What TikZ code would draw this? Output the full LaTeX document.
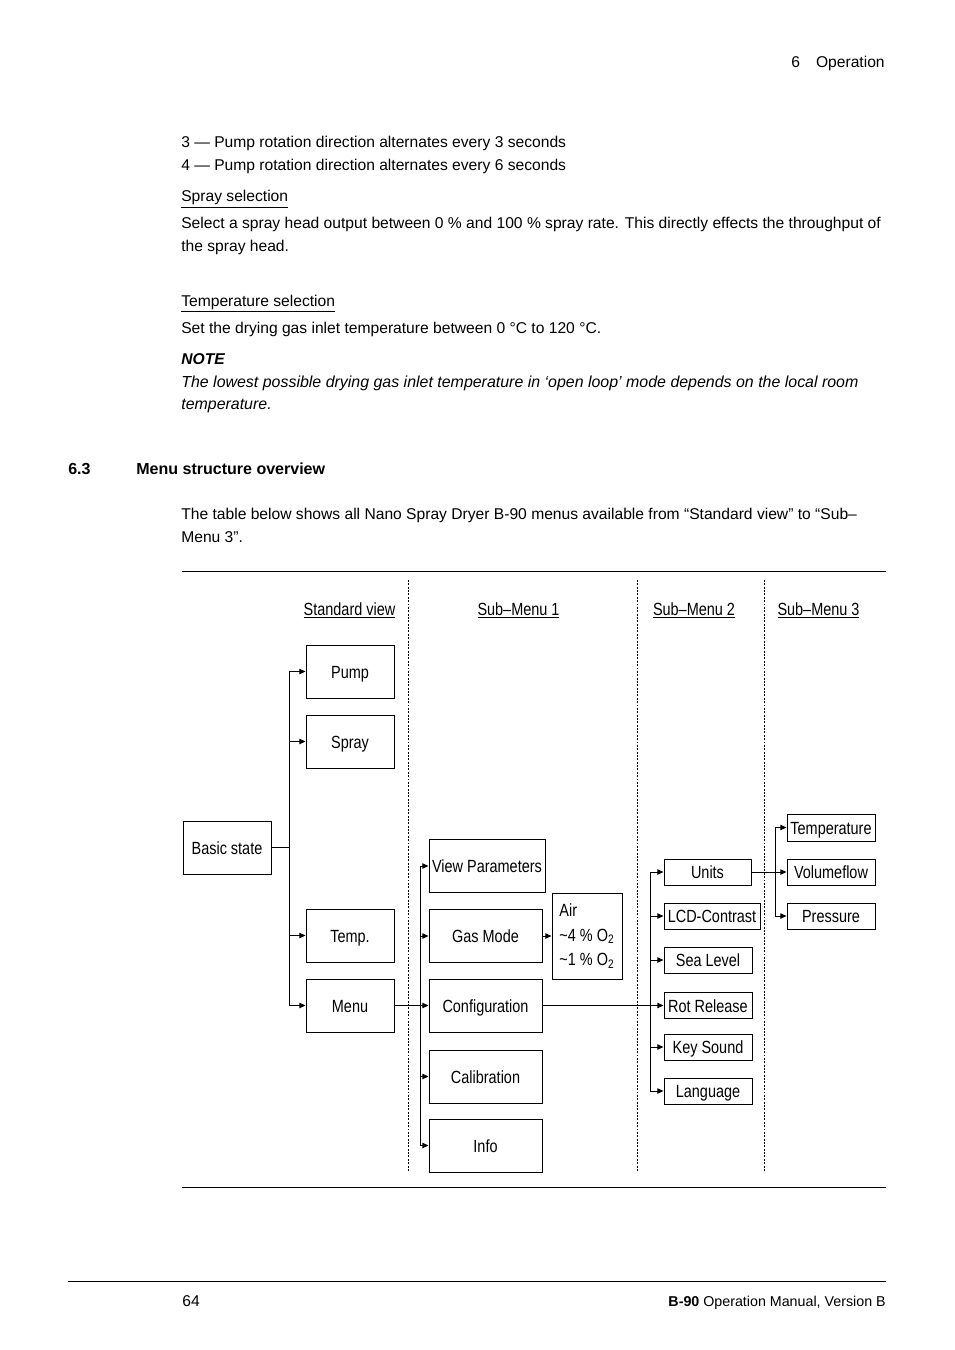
\documentclass[tikz,border=0pt]{standalone}
\usepackage{fontspec}
\setmainfont{Liberation Sans}
\newfontfamily\narrowfont[FakeStretch=0.82]{Liberation Sans}
\usetikzlibrary{arrows.meta}
\newdimen\pxu \pxu=0.624pt
\begin{document}
\begin{tikzpicture}[x=0.624pt,y=-0.624pt,
  body/.style={anchor=base west,inner sep=0pt,font=\fontsize{9.75}{12}\selectfont},
  bodyit/.style={body,font=\fontsize{9.95}{12}\selectfont\itshape},
  dg/.style={font=\narrowfont\fontsize{11}{13}\selectfont},
  hdr/.style={dg,anchor=base,inner sep=0pt},
  box/.style={dg,draw,line width=0.6pt,inner sep=1pt,text height=8.6pt,text depth=0pt},
  ln/.style={line width=0.6pt},
  arr/.style={ln,-{Triangle[length=3.8pt,width=3.3pt]}},
  sep/.style={line width=0.5pt,dash pattern=on 1.2pt off 0.9pt},
  rule/.style={line width=0.6pt}]
\useasboundingbox (0,0) rectangle (954,1350);

% header
\node[body] (h6) at (791,68) {6};
\node[body,anchor=base east] (hop) at (885,68) {Operation};

% body text
\node[body] (l3) at (181,148) {3 — Pump rotation direction alternates every 3 seconds};
\node[body] (l4) at (181,171) {4 — Pump rotation direction alternates every 6 seconds};
\node[body] (ss) at (181,202) {\underline{Spray selection}};
\node[body] (ss1) at (181,229) {Select a spray head output between 0 \% and 100 \% spray rate. This directly effects the throughput of};
\node[body] (ss2) at (181,252) {the spray head.};
\node[body] (ts) at (181,306) {\underline{Temperature selection}};
\node[body] (ts1) at (181,333) {Set the drying gas inlet temperature between 0 °C to 120 °C.};
\node[body,font=\fontsize{9.75}{12}\selectfont\bfseries\itshape] (note) at (181,364) {NOTE};
\node[bodyit] (n1) at (181,387) {The lowest possible drying gas inlet temperature in ‘open loop’ mode depends on the local room};
\node[bodyit] (n2) at (181,409) {temperature.};
\node[body,font=\fontsize{10}{12}\selectfont\bfseries] (secn) at (68,474) {6.3};
\node[body,font=\fontsize{10}{12}\selectfont\bfseries] (sect) at (136,474) {Menu structure overview};
\node[body] (tb1) at (181,519) {The table below shows all Nano Spray Dryer B-90 menus available from “Standard view” to “Sub–};
\node[body] (tb2) at (181,542) {Menu 3”.};

% rules
\coordinate (r1a) at (182,571); \coordinate (r1b) at (886,571);
\draw[rule] (r1a) -- (r1b);
\coordinate (r2a) at (182,1187); \coordinate (r2b) at (886,1187);
\draw[rule] (r2a) -- (r2b);
\coordinate (r3a) at (68,1281); \coordinate (r3b) at (886,1281);
\draw[rule] (r3a) -- (r3b);

% column separators
\coordinate (s1a) at (408,580); \coordinate (s1b) at (408,1171);
\coordinate (s2a) at (637,580); \coordinate (s2b) at (637,1171);
\coordinate (s3a) at (764,580); \coordinate (s3b) at (764,1171);
\draw[sep] (s1a) -- (s1b);
\draw[sep] (s2a) -- (s2b);
\draw[sep] (s3a) -- (s3b);

% column headers
\node[hdr] (hsv) at (349.5,615) {\underline{Standard view}};
\node[hdr] (hs1) at (518.5,615) {\underline{Sub–Menu 1}};
\node[hdr] (hs2) at (694,615) {\underline{Sub–Menu 2}};
\node[hdr] (hs3) at (818.5,615) {\underline{Sub–Menu 3}};

% standard view
\node[box,minimum width=88*\pxu,minimum height=53*\pxu] (basic) at (227,847.5) {Basic state};
\node[box,minimum width=88*\pxu,minimum height=53*\pxu] (pump) at (350,671.5) {Pump};
\node[box,minimum width=88*\pxu,minimum height=53*\pxu] (spray) at (350,741.5) {Spray};
\node[box,minimum width=88*\pxu,minimum height=53*\pxu] (temp) at (350,935.5) {Temp.};
\node[box,minimum width=88*\pxu,minimum height=53*\pxu] (menu) at (350,1005.5) {Menu};

\coordinate (t1) at (289,847.5);
\draw[ln] (basic.east) -- (t1);
\draw[ln] (t1 |- pump.west) -- (t1 |- menu.west);
\draw[arr] (t1 |- pump.west) -- (pump.west);
\draw[arr] (t1 |- spray.west) -- (spray.west);
\draw[arr] (t1 |- temp.west) -- (temp.west);
\draw[arr] (t1 |- menu.west) -- (menu.west);

% sub-menu 1
\node[box,minimum width=116*\pxu,minimum height=53*\pxu] (vp) at (487,866) {View Parameters};
\node[box,minimum width=113*\pxu,minimum height=53*\pxu] (gas) at (485.5,936) {Gas Mode};
\node[box,minimum width=113*\pxu,minimum height=53*\pxu] (conf) at (485.5,1005.5) {Configuration};
\node[box,minimum width=113*\pxu,minimum height=53*\pxu] (cal) at (485.5,1076.5) {Calibration};
\draw[line width=1.1pt] (cal.south west) -- (cal.south east);
\node[box,minimum width=113*\pxu,minimum height=53*\pxu] (info) at (485.5,1145.5) {Info};
\node[dg,draw,line width=0.6pt,inner sep=1pt,minimum width=70*\pxu,minimum height=86*\pxu,align=left,font=\narrowfont\fontsize{11}{15.3}\selectfont] (air) at (587,936) {Air\\\textasciitilde4 \% O\textsubscript{2}\\\textasciitilde1 \% O\textsubscript{2}};

\coordinate (t2) at (420,1005.5);
\draw[ln] (menu.east) -- (t2);
\draw[ln] (t2 |- vp.west) -- (t2 |- info.west);
\draw[arr] (t2 |- vp.west) -- (vp.west);
\draw[arr] (t2 |- gas.west) -- (gas.west);
\draw[arr] (t2 |- conf.west) -- (conf.west);
\draw[arr] (t2 |- cal.west) -- (cal.west);
\draw[arr] (t2 |- info.west) -- (info.west);
\draw[arr] (gas.east) -- (air.west |- gas.east);

% sub-menu 2
\node[box,minimum width=87*\pxu,minimum height=26*\pxu] (units) at (707.5,872) {Units};
\node[box,minimum width=96*\pxu,minimum height=26*\pxu] (lcd) at (712,916) {LCD-Contrast};
\node[box,minimum width=88*\pxu,minimum height=26*\pxu] (sea) at (708,960) {Sea Level};
\node[box,minimum width=88*\pxu,minimum height=26*\pxu] (rot) at (708,1005.5) {Rot Release};
\node[box,minimum width=88*\pxu,minimum height=26*\pxu] (key) at (708,1047) {Key Sound};
\node[box,minimum width=88*\pxu,minimum height=26*\pxu] (lang) at (708,1091) {Language};

\coordinate (t3) at (650,1005.5);
\draw[ln] (conf.east) -- (t3);
\draw[ln] (t3 |- units.west) -- (t3 |- lang.west);
\draw[arr] (t3 |- units.west) -- (units.west);
\draw[arr] (t3 |- lcd.west) -- (lcd.west);
\draw[arr] (t3 |- sea.west) -- (sea.west);
\draw[arr] (t3 |- rot.west) -- (rot.west);
\draw[arr] (t3 |- key.west) -- (key.west);
\draw[arr] (t3 |- lang.west) -- (lang.west);

% sub-menu 3
\node[box,minimum width=88*\pxu,minimum height=27*\pxu] (tmp) at (831,827.5) {Temperature};
\node[box,minimum width=88*\pxu,minimum height=26*\pxu] (vol) at (831,872) {Volumeflow};
\node[box,minimum width=88*\pxu,minimum height=26*\pxu] (pres) at (831,916) {Pressure};

\coordinate (t4) at (775,872);
\draw[ln] (units.east) -- (t4);
\draw[ln] (t4 |- tmp.west) -- (t4 |- pres.west);
\draw[arr] (t4 |- tmp.west) -- (tmp.west);
\draw[arr] (t4 |- vol.west) -- (vol.west);
\draw[arr] (t4 |- pres.west) -- (pres.west);

% footer
\node[body] (pg) at (182,1306) {64};
\node[body,anchor=base east,font=\fontsize{8.9}{10}\selectfont] (ft) at (886,1306) {\textbf{B-90} Operation Manual, Version B};
\end{tikzpicture}
\end{document}
